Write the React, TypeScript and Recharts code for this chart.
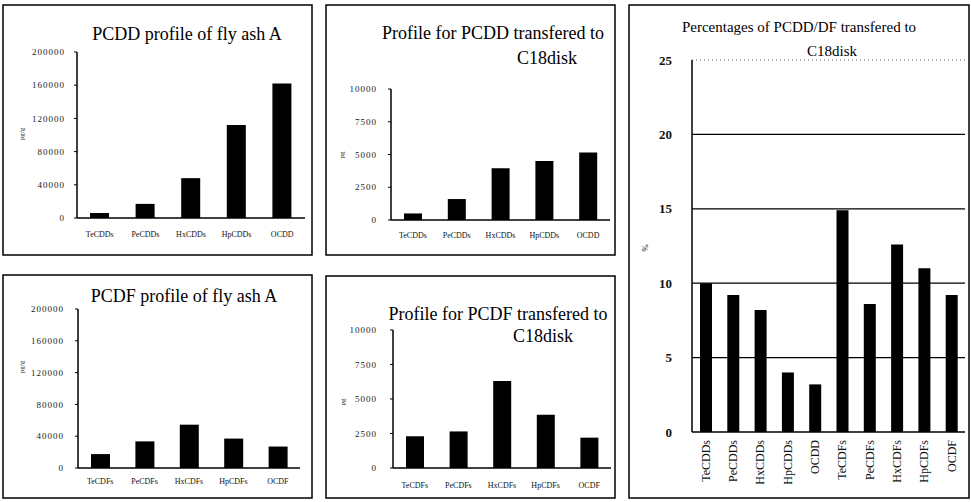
import { BarChart, Bar, XAxis, YAxis, ReferenceLine } from 'recharts'

const pcddNames = ['TeCDDs', 'PeCDDs', 'HxCDDs', 'HpCDDs', 'OCDD']
const pcdfNames = ['TeCDFs', 'PeCDFs', 'HxCDFs', 'HpCDFs', 'OCDF']

// pg/g in the fly ash
const pcddFlyAsh = [6000, 17000, 48000, 112000, 162000]
const pcdfFlyAsh = [17500, 33500, 54500, 37000, 27000]

// pg/g found on the C18 disk
const pcddDisk = [500, 1600, 3950, 4500, 5150]
const pcdfDisk = [2300, 2650, 6300, 3850, 2200]

// % transfered
const pctNames = ['TeCDDs', 'PeCDDs', 'HxCDDs', 'HpCDDs', 'OCDD', 'TeCDFs', 'PeCDFs', 'HxCDFs', 'HpCDFs', 'OCDF']
const pctValues = [10.0, 9.2, 8.2, 4.0, 3.2, 14.9, 8.6, 12.6, 11.0, 9.2]

const ashTicks = [0, 40000, 80000, 120000, 160000, 200000]
const diskTicks = [0, 2500, 5000, 7500, 10000]
const pctTicks = [0, 5, 10, 15, 20, 25]

const serif = "'Liberation Serif', 'Times New Roman', serif"
const YW = 60
const XH = 30

type Box = { x: number; y: number; w: number; h: number }
type Plot = { x0: number; x1: number; y0: number; y1: number }

function margins(box: Box, plot: Plot) {
  return {
    top: plot.y0 - box.y,
    left: plot.x0 - box.x - YW,
    right: box.x + box.w - plot.x1,
    bottom: box.y + box.h - plot.y1 - XH,
  }
}

type ProfileProps = {
  box: Box
  plot: Plot
  names: string[]
  values: number[]
  ticks: number[]
  barSize: number
  yGap: number
  xGap: number
}

function Profile({ box, plot, names, values, ticks, barSize, yGap, xGap }: ProfileProps) {
  const data = names.map((name, i) => ({ name, v: values[i] }))
  return (
    <div style={{ position: 'absolute', left: box.x, top: box.y }}>
      <BarChart width={box.w} height={box.h} data={data} margin={margins(box, plot)} barCategoryGap={0}>
        <XAxis
          dataKey="name"
          height={XH}
          interval={0}
          tickSize={0}
          tickMargin={xGap}
          tickLine={false}
          axisLine={{ stroke: '#000', strokeWidth: 1.5 }}
          tick={{ fontSize: 8, fill: '#111', fontFamily: serif }}
        />
        <YAxis
          width={YW}
          domain={[0, ticks[ticks.length - 1]]}
          ticks={ticks}
          interval={0}
          tickSize={3}
          tickMargin={yGap}
          tickLine={{ stroke: '#000' }}
          axisLine={{ stroke: '#000', strokeWidth: 1.5 }}
          tick={{ fontSize: 9, fill: '#222', fontFamily: serif, letterSpacing: 1 }}
        />
        <Bar dataKey="v" fill="#000" barSize={barSize} isAnimationActive={false} />
      </BarChart>
    </div>
  )
}

function RotTick(props: any) {
  const { x, y, payload } = props
  return (
    <text
      x={x}
      y={y}
      transform={`rotate(-90, ${x}, ${y})`}
      textAnchor="end"
      dy="0.35em"
      fontSize={12}
      fontFamily={serif}
      fill="#111"
    >
      {payload.value}
    </text>
  )
}

function Percentages() {
  const box = { x: 628, y: 5, w: 341, h: 493 }
  const plot = { x0: 692, x1: 965, y0: 60, y1: 432 }
  const data = pctNames.map((name, i) => ({ name, v: pctValues[i] }))
  const top = pctTicks[pctTicks.length - 1]
  return (
    <div style={{ position: 'absolute', left: box.x, top: box.y }}>
      <BarChart width={box.w} height={box.h} data={data} margin={margins(box, plot)}>
        <XAxis
          dataKey="name"
          height={XH}
          interval={0}
          tickSize={0}
          tickMargin={8}
          tickLine={false}
          axisLine={{ stroke: '#000', strokeWidth: 1.5 }}
          tick={<RotTick />}
        />
        <YAxis
          yAxisId="l"
          width={YW}
          domain={[0, top]}
          ticks={pctTicks}
          interval={0}
          tickSize={0}
          tickMargin={20}
          tickLine={false}
          axisLine={{ stroke: '#000', strokeWidth: 1.5 }}
          tick={{ fontSize: 13, fill: '#111', fontFamily: serif, fontWeight: 'bold' }}
        />
        <YAxis
          yAxisId="r"
          orientation="right"
          width={0}
          domain={[0, top]}
          tick={false}
          tickLine={false}
          axisLine={{ stroke: '#555', strokeDasharray: '1 2' }}
        />
        {pctTicks
          .filter((t) => t > 0 && t < top)
          .map((t) => (
            <ReferenceLine key={t} yAxisId="l" y={t} stroke="#000" strokeWidth={1.3} />
          ))}
        <ReferenceLine yAxisId="l" y={top} stroke="#555" strokeDasharray="1 3" />
        <Bar yAxisId="l" dataKey="v" fill="#000" barSize={12} isAnimationActive={false} />
      </BarChart>
    </div>
  )
}

function Overlay() {
  const border = { fill: 'none', stroke: '#000', strokeWidth: 1.5 }
  const title = { fontFamily: serif, fill: '#000', textAnchor: 'middle' as const }
  const unit = { fontFamily: serif, fill: '#222', fontSize: 7, textAnchor: 'middle' as const }
  return (
    <svg width={971} height={502} style={{ position: 'absolute', left: 0, top: 0, pointerEvents: 'none' }}>
      <rect x={3} y={5} width={309} height={250} {...border} />
      <rect x={326} y={5} width={289} height={250} {...border} />
      <rect x={3} y={275} width={309} height={223} {...border} />
      <rect x={326} y={276} width={289} height={222} {...border} />
      <rect x={629} y={5} width={340} height={493} {...border} />

      <text x={187} y={40} fontSize={18} {...title}>PCDD profile of fly ash A</text>
      <text x={493} y={39} fontSize={18} {...title}>Profile for PCDD transfered to</text>
      <text x={547} y={64} fontSize={18} {...title}>C18disk</text>
      <text x={184} y={302} fontSize={18} {...title}>PCDF profile of fly ash A</text>
      <text x={498} y={320} fontSize={18} {...title}>Profile for PCDF transfered to</text>
      <text x={543} y={342} fontSize={18} {...title}>C18disk</text>
      <text x={799} y={32} fontSize={15} {...title}>Percentages of PCDD/DF transfered to</text>
      <text x={832} y={56} fontSize={15} {...title}>C18disk</text>

      <text x={24} y={134} transform="rotate(-90, 24, 134)" {...unit}>pg/g</text>
      <text x={344} y={155} transform="rotate(-90, 344, 155)" {...unit}>pg</text>
      <text x={24} y={367} transform="rotate(-90, 24, 367)" {...unit}>pg/g</text>
      <text x={345} y={402} transform="rotate(-90, 345, 402)" {...unit}>pg</text>
      <text x={648} y={248} transform="rotate(-90, 648, 248)" {...unit} fontSize={9}>%</text>
    </svg>
  )
}

export default function App() {
  return (
    <div style={{ position: 'absolute', left: 0, top: 0, width: 971, height: 502, background: '#fff' }}>
      <Profile
        box={{ x: 3, y: 5, w: 309, h: 250 }}
        plot={{ x0: 77, x1: 305, y0: 52, y1: 218 }}
        names={pcddNames}
        values={pcddFlyAsh}
        ticks={ashTicks}
        barSize={19}
        yGap={9}
        xGap={13}
      />
      <Profile
        box={{ x: 326, y: 5, w: 289, h: 250 }}
        plot={{ x0: 391, x1: 610, y0: 89, y1: 220 }}
        names={pcddNames}
        values={pcddDisk}
        ticks={diskTicks}
        barSize={18}
        yGap={11}
        xGap={12}
      />
      <Profile
        box={{ x: 3, y: 275, w: 309, h: 223 }}
        plot={{ x0: 78, x1: 300, y0: 309, y1: 468 }}
        names={pcdfNames}
        values={pcdfFlyAsh}
        ticks={ashTicks}
        barSize={19}
        yGap={11}
        xGap={10}
      />
      <Profile
        box={{ x: 326, y: 276, w: 289, h: 222 }}
        plot={{ x0: 393, x1: 611, y0: 330, y1: 468 }}
        names={pcdfNames}
        values={pcdfDisk}
        ticks={diskTicks}
        barSize={18}
        yGap={13}
        xGap={14}
      />
      <Percentages />
      <Overlay />
    </div>
  )
}
